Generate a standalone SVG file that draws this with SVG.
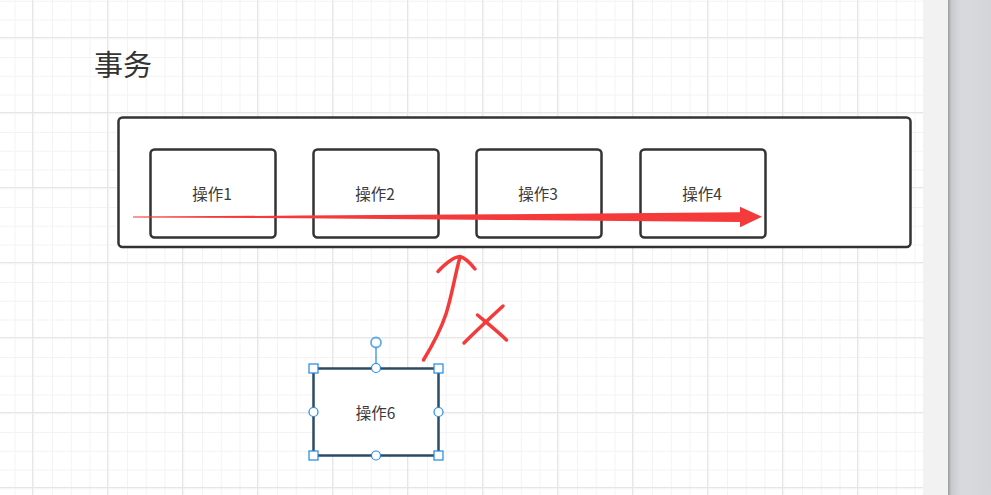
<svg xmlns="http://www.w3.org/2000/svg" width="991" height="495" viewBox="0 0 991 495">
<defs>
<pattern id="minor" x="-4.25" y="0.75" width="18.75" height="18.75" patternUnits="userSpaceOnUse">
<path d="M0 0.5 H18.75 M0.5 0 V18.75" stroke="#f3f3f3" stroke-width="1" fill="none"/>
</pattern>
<pattern id="major" x="32" y="37" width="75" height="75" patternUnits="userSpaceOnUse">
<path d="M0 0.5 H75 M0.5 0 V75" stroke="#e6e6e6" stroke-width="1" fill="none"/>
</pattern>
<linearGradient id="side" x1="0" y1="0" x2="1" y2="0">
<stop offset="0" stop-color="#9a9b9e"/>
<stop offset="0.08" stop-color="#c9cacd"/>
<stop offset="0.3" stop-color="#d9dadd"/>
<stop offset="1" stop-color="#d4d5d8"/>
</linearGradient>
</defs>
<style>
.box{fill:#ffffff;stroke:#333333;stroke-width:2.5}
.lbl{font-family:"Noto Sans CJK SC","Noto Sans",sans-serif;font-size:15.5px;fill:#3a3a3a;text-anchor:middle;dominant-baseline:central}
.h{fill:#ffffff;stroke:#1e88e5;stroke-width:1.2}
.pen{fill:none;stroke:#f43a3a;stroke-width:3.5;stroke-linecap:round;stroke-linejoin:round}
</style>
<rect x="0" y="0" width="923" height="495" fill="#ffffff"/>
<rect x="0" y="0" width="923" height="495" fill="url(#minor)"/>
<rect x="0" y="0" width="923" height="495" fill="url(#major)"/>
<rect x="923" y="0" width="25" height="495" fill="#f2f2f2"/>
<rect x="948" y="0" width="43" height="495" fill="url(#side)"/>

<text x="94" y="63" font-family="Noto Sans CJK SC,sans-serif" font-size="29" fill="#333333" dominant-baseline="central">事务</text>

<g id="container"><rect class="box" x="118.5" y="117.5" width="792" height="129.5" rx="4"/></g>
<g id="op1"><rect class="box" x="150.5" y="149.5" width="125" height="88" rx="4"/><text class="lbl" x="212" y="193">操作1</text></g>
<g id="op2"><rect class="box" x="313.5" y="149.5" width="125" height="88" rx="4"/><text class="lbl" x="375" y="193">操作2</text></g>
<g id="op3"><rect class="box" x="476.5" y="149.5" width="125" height="88" rx="4"/><text class="lbl" x="538" y="193">操作3</text></g>
<g id="op4"><rect class="box" x="640.5" y="149.5" width="125" height="88" rx="4"/><text class="lbl" x="702" y="193">操作4</text></g>

<g id="op6">
<rect x="313.5" y="368.5" width="125" height="87" fill="#ffffff" stroke="#2d4a66" stroke-width="2.5"/>
<text class="lbl" x="375.5" y="412">操作6</text>
<line x1="376" y1="347" x2="376" y2="368" stroke="#1e88e5" stroke-width="1.2"/>
<circle cx="376" cy="342.5" r="5" fill="#ffffff" stroke="#1e88e5" stroke-width="1.8" stroke-opacity="0.7"/>
<rect class="h" x="309" y="364" width="9" height="9"/>
<rect class="h" x="434" y="364" width="9" height="9"/>
<rect class="h" x="309" y="451" width="9" height="9"/>
<rect class="h" x="434" y="451" width="9" height="9"/>
<circle class="h" cx="376" cy="368" r="4.5"/>
<circle class="h" cx="376" cy="455.5" r="4.5"/>
<circle class="h" cx="313.5" cy="412" r="4.5"/>
<circle class="h" cx="438.5" cy="412" r="4.5"/>
</g>

<g id="connectors">
<polygon fill="#f43a3a" points="133,216.6 300,215.6 500,214.3 740,212.3 740,206.7 762,216.7 740,227.3 740,222 500,220 300,218.3 133,217.4"/>
<path class="pen" d="M423.5 360 C432 346 440 332 446 314 C452 295 455 275 460 257"/>
<path class="pen" d="M438 271.5 C446 263 453 257 460 256.5 C466 258 471 264 475 269"/>
<path class="pen" d="M477.5 315 C487 323 497 331 506.5 340"/>
<path class="pen" d="M503 306 C490 318 476 331 464 343"/>
</g>
</svg>
